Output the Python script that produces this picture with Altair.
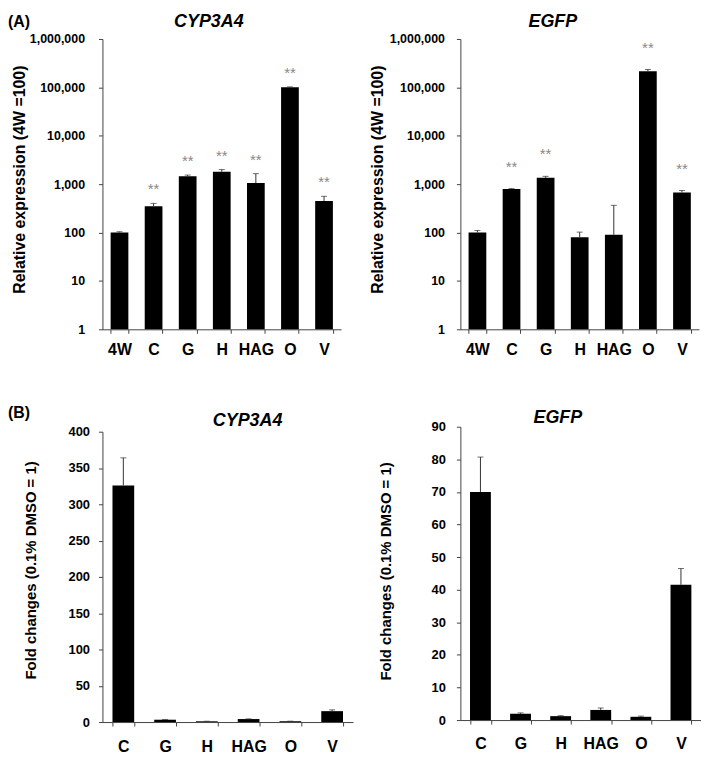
import altair as alt
import pandas as pd

# ---------------- data ----------------
cats_a = ["4W", "C", "G", "H", "HAG", "O", "V"]
cyp_a = [100, 350, 1450, 1800, 1050, 100000, 450]
cyp_a_err = [4, 50, 90, 200, 600, 2500, 110]
cyp_a_sig = ["", "**", "**", "**", "**", "**", "**"]

egfp_a = [100, 790, 1350, 80, 90, 216000, 675]
egfp_a_err = [10, 20, 100, 22, 275, 18000, 65]
egfp_a_sig = ["", "**", "**", "", "", "**", "**"]

cats_b = ["C", "G", "H", "HAG", "O", "V"]
cyp_b = [326, 3.2, 1.0, 4.1, 1.1, 15]
cyp_b_err = [38, 0.3, 0.1, 0.3, 0.1, 1.8]
egfp_b = [70, 1.9, 1.2, 3.1, 1.0, 41.5]
egfp_b_err = [10.7, 0.3, 0.15, 0.6, 0.2, 5]

log_ticks = [1, 10, 100, 1000, 10000, 100000, 1000000]
cyp_b_ticks = [0, 50, 100, 150, 200, 250, 300, 350, 400]
egfp_b_ticks = [0, 10, 20, 30, 40, 50, 60, 70, 80, 90]

FONT = "Liberation Sans"
AXIS_COLOR = "#444444"


def frame(cats, vals, errs, sig=None):
    df = pd.DataFrame({"cat": cats, "val": vals, "err": errs})
    df["upper"] = df["val"] + df["err"]
    df["sig"] = sig if sig is not None else [""] * len(cats)
    return df


def panel(cats, vals, errs, sig, *, w, h, log, yticks, ydomain, yfmt,
          ylabel_size, ylabel_pad, ytitle, ytitle_size, ytitle_x, ytitle_y,
          xlabel_pad, title, title_dx, title_y, star_dy, tag=None, tag_y=None,
          anchor=False, pad_inner=0.48):
    df = frame(cats, vals, errs, sig)
    base = alt.Chart(df)
    xaxis = alt.Axis(
        title=None, tickBand="extent", labelAngle=0, labelFont=FONT,
        labelFontSize=16, labelFontWeight="bold", labelColor="black",
        labelPadding=xlabel_pad, tickSize=4, tickColor=AXIS_COLOR,
        domainColor=AXIS_COLOR, domainWidth=1, tickWidth=1, grid=False,
    )
    xscale = alt.Scale(paddingInner=pad_inner, paddingOuter=pad_inner / 2)
    x = alt.X("cat:N", sort=cats, scale=xscale, axis=xaxis)
    if log:
        yscale = alt.Scale(type="log", domain=ydomain, nice=False)
    else:
        yscale = alt.Scale(domain=ydomain, nice=False, zero=True)
    yaxis = alt.Axis(
        values=yticks, format=yfmt, title=ytitle, titleFont=FONT,
        titleFontSize=ytitle_size, titleFontWeight="bold", titleColor="black",
        titleAngle=270, titleX=ytitle_x, titleY=ytitle_y,
        titleAlign="center", titleBaseline="middle",
        labelFont=FONT, labelFontSize=ylabel_size, labelFontWeight="bold",
        labelColor="black", labelPadding=ylabel_pad, tickSize=4,
        tickColor=AXIS_COLOR, domainColor=AXIS_COLOR, domainWidth=1,
        tickWidth=1, grid=False, labelOverlap=False,
    )
    y_val = alt.Y("val:Q", scale=yscale, axis=yaxis)
    y_up = alt.Y("upper:Q", scale=yscale, axis=yaxis)
    enc = dict(x=x, y=y_val)
    if log:
        enc["y2"] = alt.datum(1)
    bars = base.mark_bar(color="black").encode(**enc)
    err = base.mark_rule(color="#333333", strokeWidth=1).encode(
        x=x, y=y_val, y2="upper:Q")
    cap = base.mark_tick(color="#333333", thickness=1, size=6,
                         orient="horizontal").encode(x=x, y=y_up)
    stars = base.mark_text(font=FONT, fontSize=15, color="#888888",
                           baseline="alphabetic", dy=star_dy).encode(
        x=x, y=y_up, text="sig:N")
    ttl = alt.Chart(pd.DataFrame({"t": [title]})).mark_text(
        font=FONT, fontSize=18, fontWeight="bold", fontStyle="italic",
        color="black", align="center", baseline="alphabetic",
    ).encode(x=alt.value(w / 2 + title_dx), y=alt.value(title_y), text="t:N")
    layers = [bars, err, cap, stars, ttl]
    if tag is not None:
        tg = alt.Chart(pd.DataFrame({"t": [tag]})).mark_text(
            font=FONT, fontSize=16, fontWeight="bold", color="black",
            align="left", baseline="alphabetic",
        ).encode(x=alt.value(-95), y=alt.value(tag_y), text="t:N")
        layers.append(tg)
    if anchor:
        corner = alt.Chart(pd.DataFrame({"a": [0]})).mark_rect(opacity=0).encode(
            x=alt.value(-95), x2=alt.value(-94), y=alt.value(-29), y2=alt.value(-28))
        layers.append(corner)
    return alt.layer(*layers).properties(width=w, height=h)


tl = panel(cats_a, cyp_a, cyp_a_err, cyp_a_sig, w=240, h=292, log=True,
           yticks=log_ticks, ydomain=[1, 1000000], yfmt=",",
           ylabel_size=12.5, ylabel_pad=14,
           ytitle="Relative expression (4W =100)", ytitle_size=16,
           ytitle_x=-83, ytitle_y=141, xlabel_pad=8,
           title="CYP3A4", title_dx=-13, title_y=-12.5, star_dy=-9,
           tag="(A)", tag_y=-12, anchor=True)

tr = panel(cats_a, egfp_a, egfp_a_err, egfp_a_sig, w=240, h=292, log=True,
           yticks=log_ticks, ydomain=[1, 1000000], yfmt=",",
           ylabel_size=12.5, ylabel_pad=12,
           ytitle="Relative expression (4W =100)", ytitle_size=16,
           ytitle_x=-83, ytitle_y=141, xlabel_pad=8,
           title="EGFP", title_dx=-27, title_y=-12.5, star_dy=-17,
           anchor=True)

bl = panel(cats_b, cyp_b, cyp_b_err, None, w=252, h=292, log=False,
           yticks=cyp_b_ticks, ydomain=[0, 400], yfmt="d",
           ylabel_size=13, ylabel_pad=9,
           ytitle="Fold changes (0.1% DMSO = 1)", ytitle_size=15,
           ytitle_x=-72, ytitle_y=139, xlabel_pad=13,
           title="CYP3A4", title_dx=20, title_y=-6, star_dy=-9,
           tag="(B)", tag_y=-14)

br = panel(cats_b, egfp_b, egfp_b_err, None, w=242, h=295, log=False,
           yticks=egfp_b_ticks, ydomain=[0, 90], yfmt="d",
           ylabel_size=13, ylabel_pad=11,
           ytitle="Fold changes (0.1% DMSO = 1)", ytitle_size=15,
           ytitle_x=-75, ytitle_y=145, xlabel_pad=12,
           title="EGFP", title_dx=-23, title_y=-4, star_dy=-9)

left = alt.vconcat(tl, bl, spacing=103, bounds="flush")
right = alt.vconcat(tr, br, spacing=98, bounds="flush")

chart = alt.hconcat(left, right, spacing=13, padding=0).configure_view(
    stroke=None, strokeWidth=0
)

chart.save("out.html", embed_options={"renderer": "svg", "actions": False})
